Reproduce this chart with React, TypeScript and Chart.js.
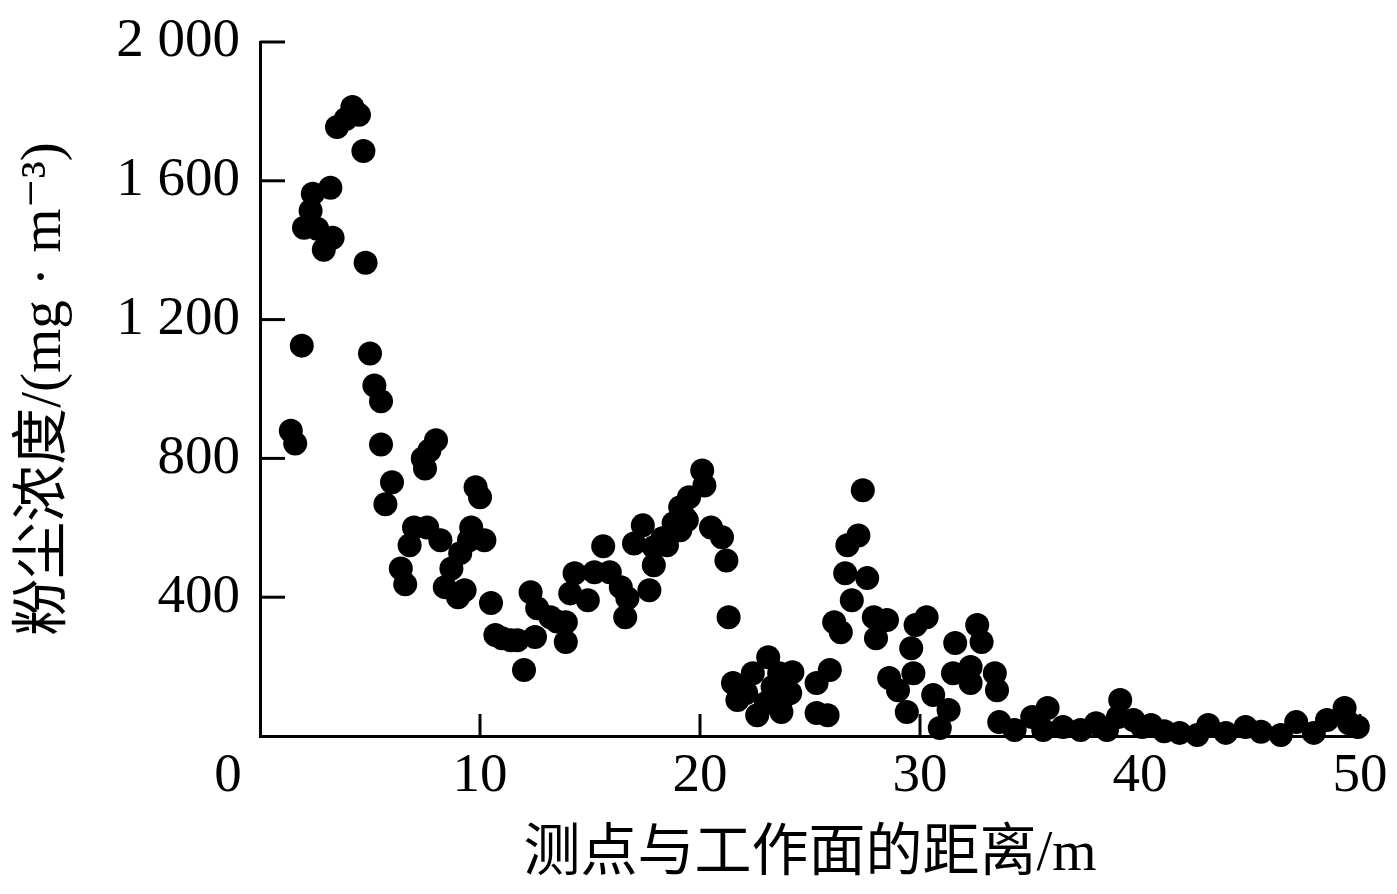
import { useEffect, useRef } from 'react';
import { Chart, registerables } from 'chart.js';

Chart.register(...registerables);

// Distance from working face (m)
const distances = [
  1.4, 1.6, 1.9, 2.0, 2.3, 2.4, 2.6, 2.9, 3.2, 3.3,
  3.5, 3.9, 4.2, 4.5, 4.7, 4.8, 5.0, 5.2, 5.5, 5.5,
  5.7, 6.0, 6.4, 6.6, 6.8, 7.0, 7.4, 7.5, 7.7, 8.0,
  7.6, 8.2, 8.4, 8.7, 9.0, 9.1, 9.3, 9.5, 9.6, 9.8,
  10.0, 10.2, 10.5,
  10.7, 11.0, 11.4, 11.7, 12.0, 12.3, 12.5, 12.6, 13.2, 13.5,
  13.9, 13.9, 14.1, 14.3, 14.9, 15.2, 15.6, 15.9, 16.4, 16.6,
  16.7, 17.0, 17.4, 17.7, 17.9, 17.9, 18.3, 18.5, 18.8, 19.1,
  19.4, 19.5, 19.1, 19.3, 20.1, 20.2, 20.5,
  21.0, 21.2, 21.3, 21.5, 21.7, 22.1, 22.4, 22.6, 23.0, 23.1,
  23.3, 23.6, 23.7, 23.8, 24.1, 24.2, 25.3, 25.3, 25.8, 25.9,
  26.1, 26.4, 26.6, 26.7, 26.9, 27.2, 27.4, 27.6, 27.9, 28.0,
  28.5, 28.6, 29.0, 29.4, 29.6, 29.7, 29.8, 30.3, 30.6, 30.9,
  31.3, 31.5, 31.6, 32.3, 32.3, 32.6, 32.8, 33.4, 33.5, 33.6,
  34.3, 35.1, 35.6, 35.8, 36.5, 37.3, 38.0, 38.5, 39.0, 39.1,
  39.7, 40.1, 40.5, 41.1, 41.8, 42.6, 43.1, 43.9, 44.8, 45.5,
  46.4, 47.1, 47.9, 48.5, 49.3, 49.5, 49.9,
];

// Dust concentration (mg·m^-3)
const concentrations = [
  880, 843, 1125, 1465, 1514, 1563, 1462, 1401, 1580, 1436,
  1755, 1778, 1813, 1790, 1686, 1364, 1102, 1010, 965, 840,
  668, 731, 483, 437, 550, 601, 800, 771, 823, 852,
  601, 564, 429, 483, 400, 527, 420, 564, 601, 717,
  688, 564, 383,
  291, 282, 276, 276, 190, 414, 285, 368, 342, 330,
  328, 271, 411, 469, 391, 472, 547, 472, 429, 342,
  397, 555, 607, 420, 492, 544, 570, 550, 613, 659,
  622, 688, 593, 630, 765, 722, 601,
  573, 506, 342, 153, 104, 124, 181, 60, 95, 227,
  141, 181, 69, 112, 124, 184, 153, 66, 60, 190,
  328, 299, 469, 550, 391, 578, 708, 455, 342, 282,
  334, 167, 132, 69, 253, 181, 320, 342, 118, 23,
  75, 181, 268, 199, 153, 320, 271, 181, 132, 40,
  17, 55, 17, 81, 26, 17, 37, 17, 55, 104,
  46, 26, 32, 14, 9, 3, 32, 9, 26, 12,
  3, 40, 9, 46, 81, 37, 26,
];

const xTickValues = [0, 10, 20, 30, 40, 50];
const yTickValues = [400, 800, 1200, 1600, 2000];
const yTickLabels = ['400', '800', '1 200', '1 600', '2 000'];
const xTitle = '测点与工作面的距离/m';
const yTitle = '粉尘浓度/(mg · m⁻³)';

const FONT_FAMILY = '"Liberation Serif", "DejaVu Serif", "Noto Sans CJK SC", serif';
const TICK_SIZE = 55;
const TITLE_SIZE = 57;

export default function App() {
  const canvasRef = useRef<HTMLCanvasElement | null>(null);

  useEffect(() => {
    const canvas = canvasRef.current;
    if (!canvas) return;

    const innerTicks = {
      id: 'innerTicks',
      beforeDatasetsDraw(chart: any) {
        const { ctx, chartArea, scales } = chart;
        ctx.save();
        ctx.strokeStyle = '#000';
        ctx.lineWidth = 3;
        for (const v of yTickValues) {
          const y = scales.y.getPixelForValue(v);
          ctx.beginPath();
          ctx.moveTo(chartArea.left, y);
          ctx.lineTo(chartArea.left + 25, y);
          ctx.stroke();
        }
        for (const v of xTickValues) {
          if (v === 0) continue;
          const x = scales.x.getPixelForValue(v);
          ctx.beginPath();
          ctx.moveTo(x, chartArea.bottom);
          ctx.lineTo(x, chartArea.bottom - 22);
          ctx.stroke();
        }
        // origin label
        ctx.fillStyle = '#000';
        ctx.font = `${TICK_SIZE}px ${FONT_FAMILY}`;
        ctx.textAlign = 'center';
        ctx.textBaseline = 'middle';
        ctx.fillText('0', chartArea.left - 32, chartArea.bottom + 41);
        ctx.restore();
      },
    };

    const chart = new Chart(canvas, {
      type: 'scatter',
      data: {
        datasets: [
          {
            data: distances.map((d, i) => ({ x: d, y: concentrations[i] })),
            backgroundColor: '#000',
            borderWidth: 0,
            pointRadius: 12,
            pointHoverRadius: 12,
            clip: false as any,
          },
        ],
      },
      options: {
        animation: false,
        responsive: true,
        maintainAspectRatio: false,
        layout: { padding: { top: 42, right: 37, bottom: 0, left: 0 } },
        plugins: {
          legend: { display: false },
          tooltip: { enabled: false },
        },
        scales: {
          x: {
            type: 'linear',
            min: 0,
            max: 50,
            afterFit: (scale: any) => {
              scale.height = 158;
              scale.paddingLeft = 0;
              scale.paddingRight = 0;
            },
            afterBuildTicks: (scale: any) => {
              scale.ticks = xTickValues.map((v) => ({ value: v }));
            },
            grid: { display: false, drawTicks: false },
            border: { display: true, color: '#000', width: 3 },
            ticks: {
              color: '#000',
              padding: 8,
              font: { family: FONT_FAMILY, size: TICK_SIZE },
              maxRotation: 0,
              callback: (v: any) => (Number(v) === 0 ? '' : String(v)),
            },
            title: {
              display: true,
              text: xTitle,
              color: '#000',
              font: { family: FONT_FAMILY, size: TITLE_SIZE },
              padding: { top: 0, bottom: 5 },
            },
          },
          y: {
            type: 'linear',
            min: 0,
            max: 2000,
            afterFit: (scale: any) => {
              scale.width = 260;
              scale.paddingTop = 0;
              scale.paddingBottom = 0;
            },
            afterBuildTicks: (scale: any) => {
              scale.ticks = yTickValues.map((v) => ({ value: v }));
            },
            grid: { display: false, drawTicks: false },
            border: { display: true, color: '#000', width: 3 },
            ticks: {
              color: '#000',
              padding: 20,
              font: { family: FONT_FAMILY, size: TICK_SIZE },
              callback: (v: any) => {
                const idx = yTickValues.indexOf(Number(v));
                return idx >= 0 ? yTickLabels[idx] : '';
              },
            },
            title: {
              display: true,
              text: yTitle,
              color: '#000',
              font: { family: FONT_FAMILY, size: TITLE_SIZE },
              padding: { top: 11, bottom: 0 },
            },
          },
        },
      },
      plugins: [innerTicks],
    });

    return () => chart.destroy();
  }, []);

  return (
    <div style={{ position: 'absolute', left: 0, top: 0, width: 1397, height: 894, background: '#fff' }}>
      <canvas ref={canvasRef} />
    </div>
  );
}
